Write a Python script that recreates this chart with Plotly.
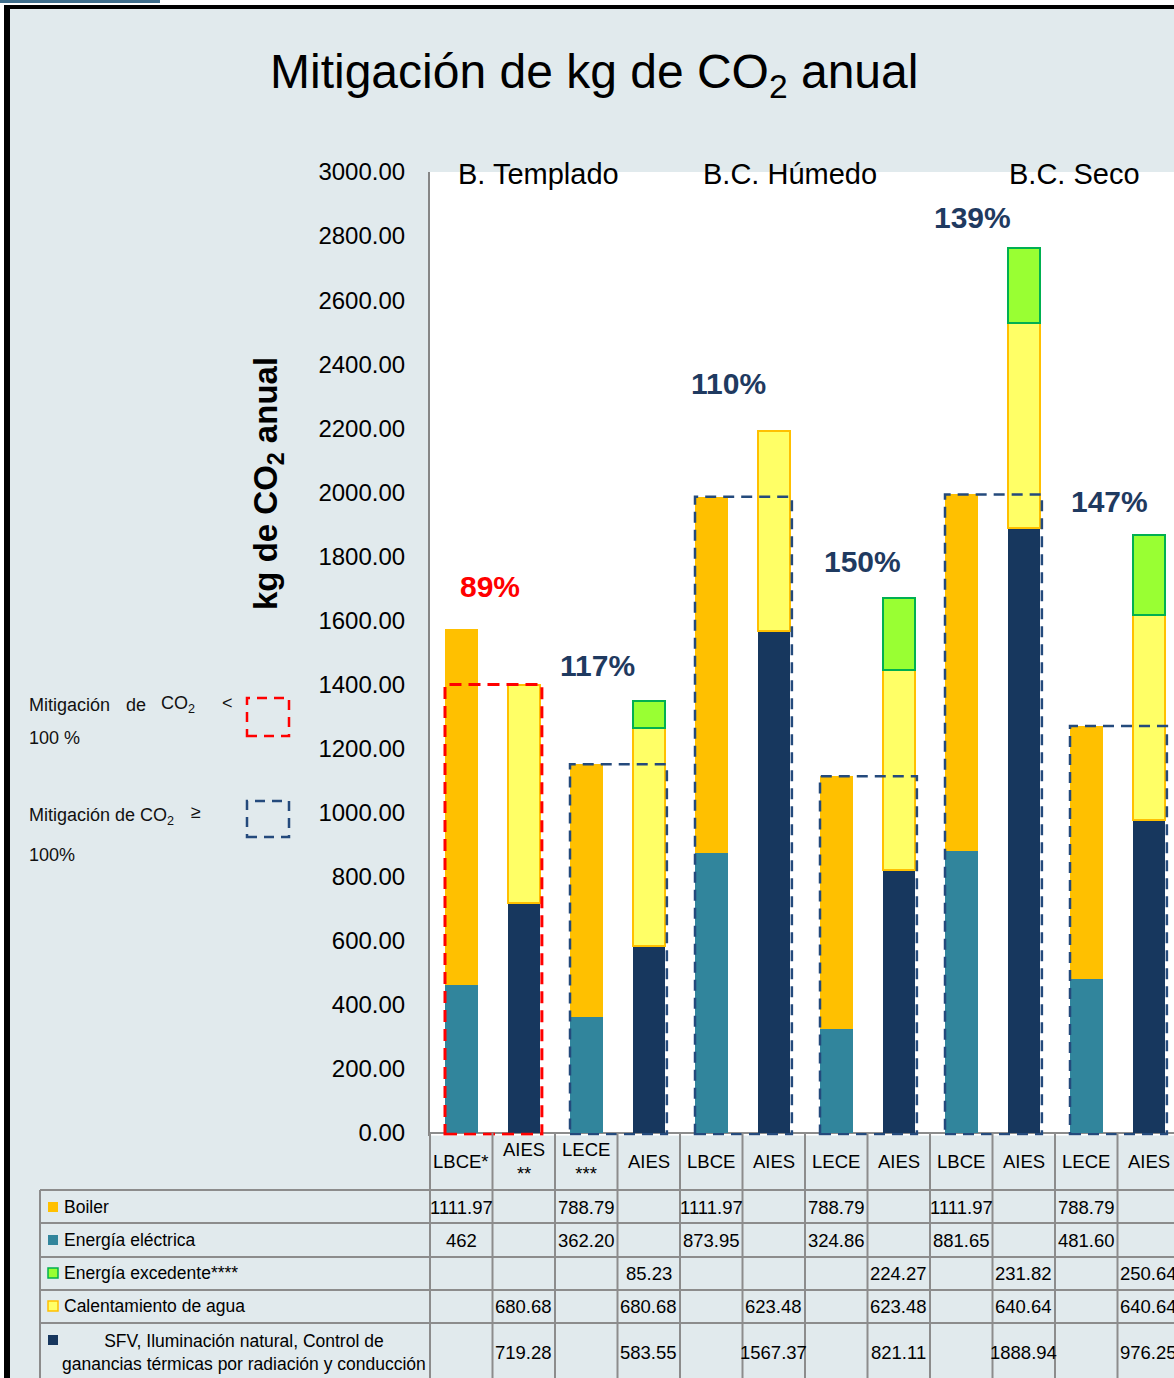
import plotly.graph_objects as go

# ---------------------------------------------------------------- data
categories = ["LBCE*", "AIES<br>**", "LECE<br>***", "AIES", "LBCE", "AIES",
              "LECE", "AIES", "LBCE", "AIES", "LECE", "AIES"]
climates = ["B. Templado", "B.C. Húmedo", "B.C. Seco"]

boiler = [1111.97, None, 788.79, None, 1111.97, None, 788.79, None, 1111.97, None, 788.79, None]
energia_electrica = [462, None, 362.20, None, 873.95, None, 324.86, None, 881.65, None, 481.60, None]
energia_excedente = [None, None, None, 85.23, None, None, None, 224.27, None, 231.82, None, 250.64]
calentamiento_agua = [None, 680.68, None, 680.68, None, 623.48, None, 623.48, None, 640.64, None, 640.64]
sfv = [None, 719.28, None, 583.55, None, 1567.37, None, 821.11, None, 1888.94, None, 976.25]

y_ticks = [0, 200, 400, 600, 800, 1000, 1200, 1400, 1600, 1800, 2000,
           2200, 2400, 2600, 2800, 3000]

# ---------------------------------------------------------------- styling
W, H = 1174, 1378
BG = "#E1EAED"
GRID = "#8C8C8C"
NAVY_TXT = "#1F3A60"
SANS = "Liberation Sans, Arial, sans-serif"

C_BOILER = "#FFC000"
C_ELEC = "#31859C"
C_EXC = "#99FF33"
C_EXC_LINE = "#00B050"
C_AGUA = "#FFFF66"
C_AGUA_LINE = "#FFC000"
C_SFV = "#17375E"

COL_W = 62.5          # px per category
X_LEFT = 430          # left edge of plot area (px)
Y_TOP, Y_ZERO = 172, 1133
PX_PER_UNIT = (Y_ZERO - Y_TOP) / 3000.0
Y_MIN = -8


def px(x):
    return x / W


def py(y):
    return 1 - y / H


x_pos = list(range(len(categories)))
bar_w = 0.52

# series drawn bottom -> top within each stack
series = [
    ("Energía eléctrica", energia_electrica, C_ELEC, None),
    ("SFV, Iluminación natural, Control de ganancias térmicas", sfv, C_SFV, None),
    ("Boiler", boiler, C_BOILER, None),
    ("Calentamiento de agua", calentamiento_agua, C_AGUA, C_AGUA_LINE),
    ("Energía excedente****", energia_excedente, C_EXC, C_EXC_LINE),
]

fig = go.Figure()
for name, vals, col, line in series:
    fig.add_trace(go.Bar(
        x=x_pos, y=vals, name=name, width=bar_w,
        marker=dict(color=col,
                    line=dict(color=line if line else col, width=2 if line else 0)),
        showlegend=False, hoverinfo="skip",
    ))

shapes = []
annotations = []

# ---------------------------------------------------------------- frame / page decoration
shapes += [
    dict(type="rect", xref="paper", yref="paper", x0=0, x1=1, y0=py(5), y1=1,
         fillcolor="white", line_width=0, layer="above"),
    dict(type="rect", xref="paper", yref="paper", x0=0, x1=px(4), y0=0, y1=1,
         fillcolor="white", line_width=0, layer="above"),
    dict(type="rect", xref="paper", yref="paper", x0=0, x1=px(160), y0=py(3), y1=1,
         fillcolor="#3F6E8C", line_width=0, layer="above"),
    dict(type="rect", xref="paper", yref="paper", x0=px(4), x1=1, y0=py(9), y1=py(5),
         fillcolor="black", line_width=0, layer="above"),
    dict(type="rect", xref="paper", yref="paper", x0=px(4), x1=px(10), y0=0, y1=py(5),
         fillcolor="black", line_width=0, layer="above"),
]

# ---------------------------------------------------------------- mitigation boxes and percentages
pct_xshift = [-3, -20, -14, -5, -20, -8]
pct_yshift = [42, 35, 48, 37, 31, 33]
for g in range(len(categories) // 2):
    i = 2 * g
    base = (boiler[i] or 0) + (energia_electrica[i] or 0)
    aies = (sfv[i + 1] or 0) + (calentamiento_agua[i + 1] or 0) + (energia_excedente[i + 1] or 0)
    ratio = aies / base
    ok = ratio >= 1
    col = "#244A7C" if ok else "#FF0000"
    shapes.append(dict(
        type="rect", xref="x", yref="y",
        x0=i - bar_w / 2, x1=i + 1 + bar_w / 2 + 0.03,
        y0=-4, y1=min(base, aies),
        line=dict(color=col, width=2.5 if ok else 3, dash="11px,7px" if ok else "12px,7px"),
        fillcolor="rgba(0,0,0,0)", layer="above",
    ))
    annotations.append(dict(
        x=i + 0.5, y=max(base, aies), xref="x", yref="y",
        text=f"<b>{round(ratio * 100)}%</b>", showarrow=False,
        xanchor="center", yanchor="middle",
        xshift=pct_xshift[g], yshift=pct_yshift[g],
        font=dict(family=SANS, size=30, color=NAVY_TXT if ok else "#FF0000"),
    ))

# ---------------------------------------------------------------- titles
annotations.append(dict(
    x=px(594), y=py(75), xref="paper", yref="paper",
    text="Mitigación de kg de CO<sub>2</sub> anual", showarrow=False,
    xanchor="center", yanchor="middle",
    font=dict(family=SANS, size=48, color="black"),
))
annotations.append(dict(
    x=px(268), y=py(484), xref="paper", yref="paper",
    text="<b>kg de CO<sub>2</sub> anual</b>", showarrow=False, textangle=-90,
    xanchor="center", yanchor="middle",
    font=dict(family=SANS, size=33, color="black"),
))
for name, cx in zip(climates, [538, 790, 1074]):
    annotations.append(dict(
        x=px(cx), y=py(174), xref="paper", yref="paper", text=name,
        showarrow=False, xanchor="center", yanchor="middle",
        font=dict(family=SANS, size=29, color="black"),
    ))

# ---------------------------------------------------------------- side legend
leg_font = dict(family=SANS, size=18, color="#111111")
for txt, x, y in [("Mitigación", 27, 705), ("de", 124, 705), ("CO<sub>2</sub>", 159, 705),
                  ("<", 220, 703), ("100 %", 27, 738),
                  ("Mitigación de CO<sub>2</sub>", 27, 816), ("≥", 189, 812), ("100%", 27, 855)]:
    annotations.append(dict(x=px(x), y=py(y), xref="paper", yref="paper", text=txt,
                            showarrow=False, xanchor="left", yanchor="middle", font=leg_font))
shapes += [
    dict(type="rect", xref="paper", yref="paper", x0=px(247), x1=px(289), y0=py(736), y1=py(698),
         line=dict(color="#FF0000", width=2.5, dash="10px,7px"), layer="above"),
    dict(type="rect", xref="paper", yref="paper", x0=px(247), x1=px(289), y0=py(837), y1=py(801),
         line=dict(color="#244A7C", width=2.5, dash="10px,7px"), layer="above"),
]

# ---------------------------------------------------------------- data table below the axis
row_lines = [1190, 1223, 1257, 1290, 1323]
row_centers = [1207, 1240, 1273, 1306, 1352]
for yl in row_lines:
    shapes.append(dict(type="line", xref="paper", yref="paper", x0=px(40), x1=1,
                       y0=py(yl), y1=py(yl), line=dict(color=GRID, width=2)))
shapes.append(dict(type="line", xref="paper", yref="paper", x0=px(40), x1=px(40),
                   y0=0, y1=py(1190), line=dict(color=GRID, width=2)))
for k in range(len(categories) + 1):
    xl = X_LEFT + COL_W * k
    if xl <= W:
        shapes.append(dict(type="line", xref="paper", yref="paper", x0=px(xl), x1=px(xl),
                           y0=0, y1=py(Y_ZERO), line=dict(color=GRID, width=2)))

# header row with category names
for i, cat in enumerate(categories):
    annotations.append(dict(x=i, y=py(1161), xref="x", yref="paper", text=cat,
                            showarrow=False, xanchor="center", yanchor="middle",
                            font=dict(family=SANS, size=18.5, color="black")))

# row labels with colour keys
table_rows = [
    ("Boiler", boiler, C_BOILER, C_BOILER),
    ("Energía eléctrica", energia_electrica, C_ELEC, C_ELEC),
    ("Energía excedente****", energia_excedente, C_EXC, C_EXC_LINE),
    ("Calentamiento de agua", calentamiento_agua, C_AGUA, C_AGUA_LINE),
    ("SFV, Iluminación natural, Control de<br>ganancias térmicas por radiación y conducción",
     sfv, C_SFV, C_SFV),
]


def fmt(v):
    return str(int(v)) if float(v).is_integer() else f"{v:.2f}"


for r, (label, vals, fill, edge) in enumerate(table_rows):
    yc = row_centers[r]
    key_y = yc if r < 4 else 1340
    shapes.append(dict(type="rect", xref="paper", yref="paper",
                       x0=px(48), x1=px(58), y0=py(key_y + 5), y1=py(key_y - 5),
                       fillcolor=fill, line=dict(color=edge, width=1.5 if edge != fill else 0)))
    if r < 4:
        annotations.append(dict(x=px(62), y=py(yc), xref="paper", yref="paper", text=label,
                                showarrow=False, xanchor="left", yanchor="middle",
                                font=dict(family=SANS, size=17.5, color="black")))
    else:
        annotations.append(dict(x=px(244), y=py(yc), xref="paper", yref="paper", text=label,
                                showarrow=False, xanchor="center", yanchor="middle", align="center",
                                font=dict(family=SANS, size=17.5, color="black")))
    for i, v in enumerate(vals):
        if v is None:
            continue
        annotations.append(dict(x=i, y=py(yc), xref="x", yref="paper", text=fmt(v),
                                showarrow=False, xanchor="center", yanchor="middle",
                                font=dict(family=SANS, size=18.5, color="black")))

# ---------------------------------------------------------------- layout
y_bottom_px = Y_ZERO - Y_MIN * PX_PER_UNIT
fig.update_layout(
    width=W, height=H, margin=dict(l=0, r=0, t=0, b=0),
    paper_bgcolor=BG, plot_bgcolor="white",
    barmode="stack", bargap=0,
    shapes=shapes, annotations=annotations,
    xaxis=dict(domain=[px(X_LEFT), 1], range=[-0.5, -0.5 + (W - X_LEFT) / COL_W],
               showticklabels=False, showgrid=False, zeroline=False, showline=False,
               fixedrange=True, automargin=False),
    yaxis=dict(domain=[py(y_bottom_px), py(Y_TOP)], range=[Y_MIN, 3000],
               tickvals=y_ticks, tickformat=".2f", showgrid=False,
               zeroline=True, zerolinecolor=GRID, zerolinewidth=2,
               showline=True, linecolor="#868686", linewidth=2,
               ticks="", ticklabelstandoff=18, automargin=False,
               tickfont=dict(family=SANS, size=24, color="black")),
)

fig.write_html("out.html", post_script="document.body.style.margin='0px';")
